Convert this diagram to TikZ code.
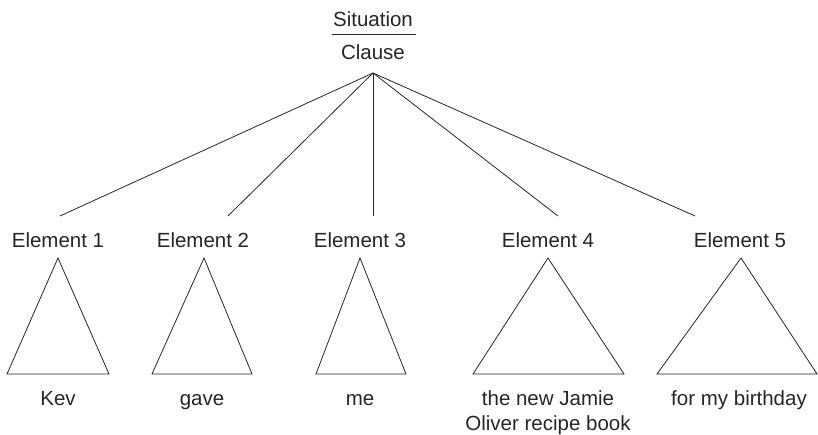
\documentclass[tikz,border=0pt]{standalone}
\usepackage{fontspec}
\setmainfont{Liberation Sans}
\begin{document}
\begin{tikzpicture}[x=1pt,y=-1pt,
  lbl/.style={anchor=base,inner sep=0pt,font=\fontsize{20.5}{25}\selectfont,text=black!85},
  ln/.style={draw=black!85,line width=0.8pt},
  tri/.style={draw=black!85,line width=0.8pt,line join=miter}]
\useasboundingbox (0,0) rectangle (818,434);
% top
\node[lbl] (sit) at (373,26) {Situation};
\node[lbl] (cla) at (373,59) {Clause};
\coordinate (ruleL) at (332,34);
\coordinate (ruleR) at (416,34);
\draw[ln] (ruleL) -- (ruleR);
\coordinate (apex) at (373,73);
% line ends
\coordinate (t1) at (60,216);
\coordinate (t2) at (228,216);
\coordinate (t3) at (373,216);
\coordinate (t4) at (558,216);
\coordinate (t5) at (695,216);
\foreach \i in {1,...,5}{\draw[ln] (apex) -- (t\i);}
% element labels
\node[lbl] (e1) at (58,247) {Element 1};
\node[lbl] (e2) at (203,247) {Element 2};
\node[lbl] (e3) at (360,247) {Element 3};
\node[lbl] (e4) at (548,247) {Element 4};
\node[lbl] (e5) at (740,247) {Element 5};
% triangles
\draw[tri] (58,258) -- (109,374) -- (7,374) -- cycle;
\draw[tri] (204,258) -- (252,374) -- (152,374) -- cycle;
\draw[tri] (360,258) -- (406,374) -- (316,374) -- cycle;
\draw[tri] (548,258) -- (624,374) -- (473,374) -- cycle;
\draw[tri] (741,258) -- (817,374) -- (657,374) -- cycle;
% words
\node[lbl] (w1) at (58,405) {Kev};
\node[lbl] (w2) at (202,405) {gave};
\node[lbl] (w3) at (360,405) {me};
\node[lbl] (w4a) at (548,405) {the new Jamie};
\node[lbl] (w4b) at (548,430) {Oliver recipe book};
\node[lbl] (w5) at (739,405) {for my birthday};
\end{tikzpicture}
\end{document}
